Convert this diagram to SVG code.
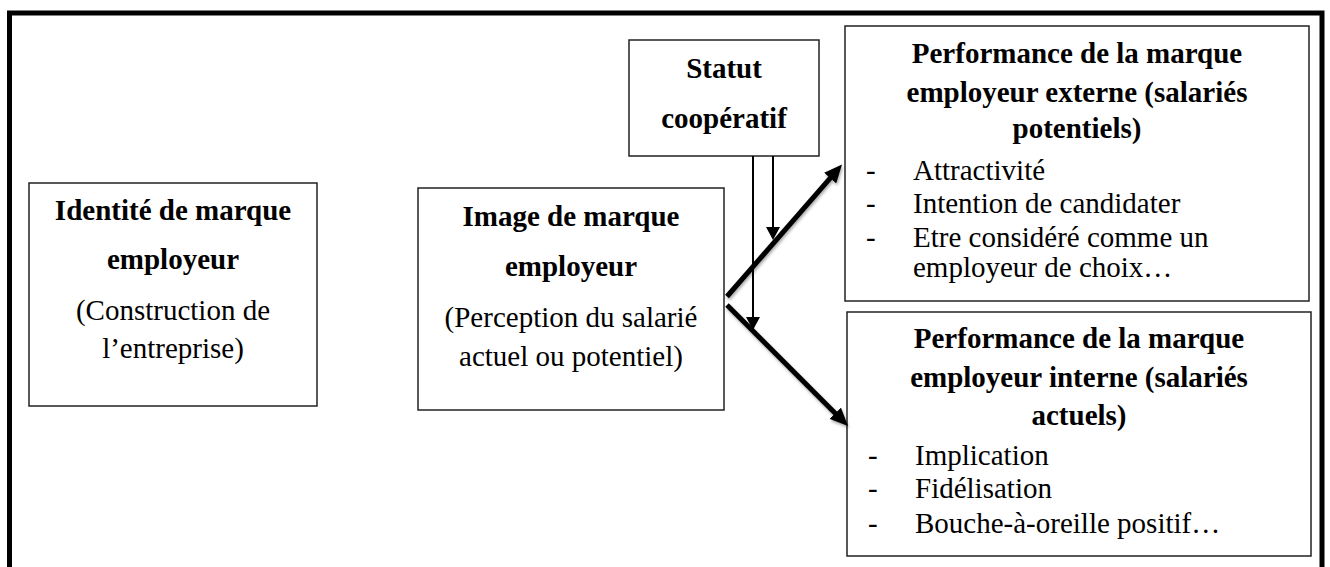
<svg xmlns="http://www.w3.org/2000/svg" width="1330" height="567" viewBox="0 0 1330 567">
<style>
  .box{fill:#fff;stroke:#222;stroke-width:1.5}
  .t{font-family:"Liberation Serif","Times New Roman",serif;font-size:29px;fill:#000}
  .b{font-weight:bold}
  .c{text-anchor:middle}
  .thick{stroke:#000;stroke-width:5;fill:none;filter:url(#sh)}
  .thin{stroke:#000;stroke-width:2;fill:none}
</style>
<defs>
  <filter id="sh" x="-20%" y="-20%" width="140%" height="140%">
    <feDropShadow dx="1" dy="2" stdDeviation="1.5" flood-color="#000" flood-opacity="0.35"/>
  </filter>
  <marker id="ah" viewBox="0 0 18 16" markerWidth="18" markerHeight="16" markerUnits="userSpaceOnUse" refX="2" refY="8" orient="auto">
    <path d="M0,0 L18,8 L0,16 z" fill="#000"/>
  </marker>
  <marker id="ahs" viewBox="0 0 13 14" markerWidth="13" markerHeight="14" markerUnits="userSpaceOnUse" refX="1" refY="7" orient="auto">
    <path d="M0,0 L13,7 L0,14 z" fill="#000"/>
  </marker>
</defs>
<rect width="1330" height="567" fill="#fff"/>
<rect id="frame" x="9.5" y="13" width="1312.5" height="600" fill="none" stroke="#000" stroke-width="5"/>

<g id="identite">
  <rect class="box" x="29" y="183" width="288" height="223"/>
  <text class="t b c" x="173" y="220">Identité de marque</text>
  <text class="t b c" x="173" y="269">employeur</text>
  <text class="t c" x="173" y="320">(Construction de</text>
  <text class="t c" x="173" y="358">l’entreprise)</text>
</g>

<g id="image">
  <rect class="box" x="418" y="188" width="306" height="222"/>
  <text class="t b c" x="571" y="226">Image de marque</text>
  <text class="t b c" x="571" y="276">employeur</text>
  <text class="t c" x="571" y="327">(Perception du salarié</text>
  <text class="t c" x="571" y="366">actuel ou potentiel)</text>
</g>

<g id="statut">
  <rect class="box" x="629" y="40" width="190" height="116"/>
  <text class="t b c" x="724" y="78">Statut</text>
  <text class="t b c" x="724" y="128">coopératif</text>
</g>

<g id="externe">
  <rect class="box" x="845" y="26" width="464" height="275"/>
  <text class="t b c" x="1077" y="63">Performance de la marque</text>
  <text class="t b c" x="1077" y="102">employeur externe (salariés</text>
  <text class="t b c" x="1077" y="138">potentiels)</text>
  <text class="t" x="866" y="180">-</text>
  <text class="t" x="913" y="180">Attractivité</text>
  <text class="t" x="866" y="213">-</text>
  <text class="t" x="913" y="213">Intention de candidater</text>
  <text class="t" x="866" y="247">-</text>
  <text class="t" x="913" y="247">Etre considéré comme un</text>
  <text class="t" x="913" y="277">employeur de choix…</text>
</g>

<g id="interne">
  <rect class="box" x="847" y="312" width="464" height="244"/>
  <text class="t b c" x="1079" y="348">Performance de la marque</text>
  <text class="t b c" x="1079" y="387">employeur interne (salariés</text>
  <text class="t b c" x="1079" y="425">actuels)</text>
  <text class="t" x="868" y="465">-</text>
  <text class="t" x="915" y="465">Implication</text>
  <text class="t" x="868" y="498">-</text>
  <text class="t" x="915" y="498">Fidélisation</text>
  <text class="t" x="868" y="533">-</text>
  <text class="t" x="915" y="533">Bouche-à-oreille positif…</text>
</g>

<g id="connectors">
  <line class="thick" x1="317" y1="310" x2="403" y2="310" marker-end="url(#ah)"/>
  <line class="thick" x1="727" y1="296.5" x2="831.5" y2="176.6" marker-end="url(#ah)"/>
  <line class="thick" x1="727" y1="305" x2="836.7" y2="414.7" marker-end="url(#ah)"/>
  <line class="thin" x1="753" y1="156" x2="753" y2="318" marker-end="url(#ahs)"/>
  <line class="thin" x1="773" y1="156" x2="773" y2="228" marker-end="url(#ahs)"/>
</g>
</svg>
